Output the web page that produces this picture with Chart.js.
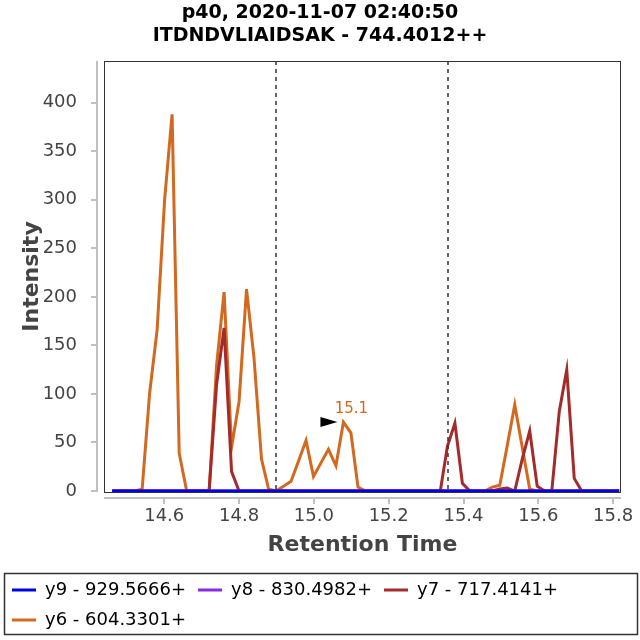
<!DOCTYPE html>
<html>
<head>
<meta charset="utf-8">
<script src="https://cdn.jsdelivr.net/npm/chart.js@4/dist/chart.umd.min.js"></script>
<style>
  body { margin: 0; background: #fff; }
</style>
</head>
<body>
<canvas id="chart" width="640" height="640"></canvas>
<script>
// temps de rétention (min)
var times = [14.461, 14.481, 14.501, 14.521, 14.541, 14.561, 14.581, 14.601, 14.621, 14.640,
             14.660, 14.680, 14.700, 14.720, 14.740, 14.760, 14.780, 14.800, 14.820, 14.840,
             14.860, 14.879, 14.899, 14.919, 14.939, 14.959, 14.979, 14.999, 15.019, 15.039,
             15.059, 15.079, 15.099, 15.118, 15.138, 15.158, 15.178, 15.198, 15.218, 15.238,
             15.258, 15.278, 15.298, 15.318, 15.338, 15.357, 15.377, 15.397, 15.417, 15.437,
             15.457, 15.477, 15.497, 15.517, 15.537, 15.557, 15.577, 15.597, 15.617, 15.636,
             15.656, 15.676, 15.696, 15.716, 15.736, 15.756, 15.776, 15.796, 15.816];

var y9 = [0,0,0,0,0,0,0,0,0,0, 0,0,0,0,0,0,0,0,0,0, 0,0,0,0,0,0,0,0,0,0,
          0,0,0,0,0,0,0,0,0,0, 0,0,0,0,0,0,0,0,0,0, 0,0,0,0,0,0,0,0,0,0,
          0,0,0,0,0,0,0,0,0];
var y8 = [0,0,0,0,0,0,0,0,0,0, 0,0,0,0,0,0,0,0,0,0, 0,0,0,0,0,0,0,0,0,0,
          0,0,0,0,0,0,0,0,0,0, 0,0,0,0,0,0,0,0,0,0, 0,0,0,0,0,0,0,0,0,0,
          0,0,0,0,0,0,0,0,0];
var y7 = [0,0,0,0,0,0,0,0,0,0, 0,0,0,0,110,168,20,0,0,0, 0,0,0,0,0,0,0,0,0,0,
          0,0,0,0,0,0,0,0,0,0, 0,0,0,0,0,46,70,8,0,0, 0,0,2,3,0,33,62,5,0,0,
          82,125,13,0,0,0,0,0,0];
var y6 = [0,0,0,0,2,101,166,300,388,39, 0,0,0,0,130,205,45,92,208,137,
          33,2,0,5,10,31,52,15,29,43, 26,71,60,4,0,0,0,0,0,0,
          0,0,0,0,0,0,0,0,0,0, 0,4,6,47,89,45,2,0,0,0,
          0,0,0,0,0,0,0,0,0];

var seriesNames = ['y9 - 929.5666+', 'y8 - 830.4982+', 'y7 - 717.4141+', 'y6 - 604.3301+'];
var seriesColors = ['#0000e6', '#8a2be2', '#a52a2a', '#d2691e'];

var xTicks = [14.6, 14.8, 15.0, 15.2, 15.4, 15.6, 15.8];
var yTicks = [0, 50, 100, 150, 200, 250, 300, 350, 400];

// lignes pointillées (limites d'intégration)
var boundaries = [14.900, 15.359];
// étiquette du pic
var peakIndex = 31;
var peakLabel = '15.1';

function toPoints(values) {
    return values.map(function(v, i) { return { x: times[i], y: v }; });
}

var allSeries = [y9, y8, y7, y6];
var datasets = allSeries.map(function(values, i) {
    return {
        label: seriesNames[i],
        data: toPoints(values),
        borderColor: seriesColors[i],
        backgroundColor: seriesColors[i],
        borderWidth: 3,
        pointRadius: 0,
        tension: 0
    };
});

// Plugin : cadre, axes décalés, pointillés, flèche du pic, boîte de légende
var extras = {
    id: 'extras',
    afterDatasetsDraw: function(chart) {
        var ctx = chart.ctx;
        var a = chart.chartArea;
        var xs = chart.scales.x, ys = chart.scales.y;
        ctx.save();

        ctx.strokeStyle = '#333';
        ctx.lineWidth = 1.5;
        ctx.setLineDash([4, 4]);
        boundaries.forEach(function(b) {
            var px = Math.round(xs.getPixelForValue(b));
            ctx.beginPath();
            ctx.moveTo(px, a.top);
            ctx.lineTo(px, a.bottom);
            ctx.stroke();
        });
        ctx.setLineDash([]);

        // cadre
        ctx.strokeStyle = '#333';
        ctx.lineWidth = 1;
        ctx.strokeRect(a.left + 0.5, a.top + 0.5, a.right - a.left - 1, a.bottom - a.top);

        // axes gris
        ctx.strokeStyle = '#c0c0c0';
        ctx.lineWidth = 2;
        var ay = a.bottom + 6;
        ctx.beginPath();
        ctx.moveTo(a.left, ay);
        ctx.lineTo(a.right, ay);
        xTicks.forEach(function(t) {
            var px = Math.round(xs.getPixelForValue(t));
            ctx.moveTo(px, ay);
            ctx.lineTo(px, ay + 6);
        });
        var ax = a.left - 7;
        ctx.moveTo(ax, a.top);
        ctx.lineTo(ax, a.bottom);
        yTicks.forEach(function(t) {
            var py = Math.round(ys.getPixelForValue(t));
            ctx.moveTo(ax, py);
            ctx.lineTo(ax - 6, py);
        });
        ctx.stroke();

        // pic annoté
        var px = xs.getPixelForValue(times[peakIndex]);
        var py = ys.getPixelForValue(y6[peakIndex]);
        ctx.fillStyle = '#000';
        ctx.beginPath();
        ctx.moveTo(px - 6, py);
        ctx.lineTo(px - 23, py - 5);
        ctx.lineTo(px - 23, py + 5);
        ctx.closePath();
        ctx.fill();
        ctx.fillStyle = seriesColors[3];
        ctx.font = '15px "DejaVu Sans"';
        ctx.textAlign = 'center';
        ctx.textBaseline = 'bottom';
        ctx.fillText(peakLabel, px + 8, py - 5);

        // boîte de légende
        var lg = chart.legend;
        ctx.strokeStyle = '#333';
        ctx.lineWidth = 1.5;
        ctx.strokeRect(4.5, lg.top + 4.5, 633, lg.bottom - lg.top - 9);
        ctx.restore();
    }
};

Chart.defaults.font.family = '"DejaVu Sans", sans-serif';
Chart.defaults.color = '#444';

var ctx = document.getElementById('chart').getContext('2d');
var myChart = new Chart(ctx, {
    type: 'line',
    data: { datasets: datasets },
    options: {
        responsive: false,
        animation: false,
        layout: { padding: { left: 0, right: 0, top: 0, bottom: 1 } },
        plugins: {
            title: {
                display: true,
                text: ['p40, 2020-11-07 02:40:50', 'ITDNDVLIAIDSAK - 744.4012++'],
                color: '#000',
                font: { size: 19, weight: 'bold' },
                padding: { top: 1.5, bottom: 13.9 }
            },
            legend: {
                position: 'bottom',
                align: 'start',
                labels: {
                    color: '#333',
                    font: { size: 18 },
                    boxWidth: 24,
                    boxHeight: 3,
                    padding: 12,
                    generateLabels: function(chart) {
                        return chart.data.datasets.map(function(ds, i) {
                            return {
                                text: ds.label,
                                fillStyle: ds.borderColor,
                                strokeStyle: ds.borderColor,
                                lineWidth: 0,
                                hidden: false,
                                datasetIndex: i
                            };
                        });
                    }
                }
            },
            tooltip: { enabled: false }
        },
        scales: {
            x: {
                type: 'linear',
                min: 14.439,
                max: 15.821,
                afterBuildTicks: function(s) { s.ticks = xTicks.map(function(v) { return { value: v }; }); },
                afterFit: function(s) { s.height = 77; s.paddingLeft = 0; s.paddingRight = 0; },
                grid: { display: false },
                border: { display: false },
                ticks: {
                    font: { size: 18 },
                    padding: 6,
                    maxRotation: 0,
                    callback: function(v) { return v.toFixed(1); }
                },
                title: {
                    display: true,
                    text: 'Retention Time',
                    color: '#444',
                    font: { size: 22, weight: 'bold' },
                    padding: { top: 0, bottom: 11 }
                }
            },
            y: {
                min: -1,
                max: 443,
                afterBuildTicks: function(s) { s.ticks = yTicks.map(function(v) { return { value: v }; }); },
                afterFit: function(s) { s.width = 104; s.paddingTop = 0; s.paddingBottom = 0; },
                grid: { display: false },
                border: { display: false },
                ticks: { font: { size: 18 }, padding: 19 },
                title: {
                    display: true,
                    text: 'Intensity',
                    color: '#444',
                    font: { size: 22, weight: 'bold' },
                    padding: { top: 19, bottom: 0 }
                }
            },
            yr: {
                position: 'right',
                afterFit: function(s) { s.width = 19; },
                grid: { display: false },
                border: { display: false },
                ticks: { display: false }
            }
        }
    },
    plugins: [extras]
});
</script>
</body>
</html>
